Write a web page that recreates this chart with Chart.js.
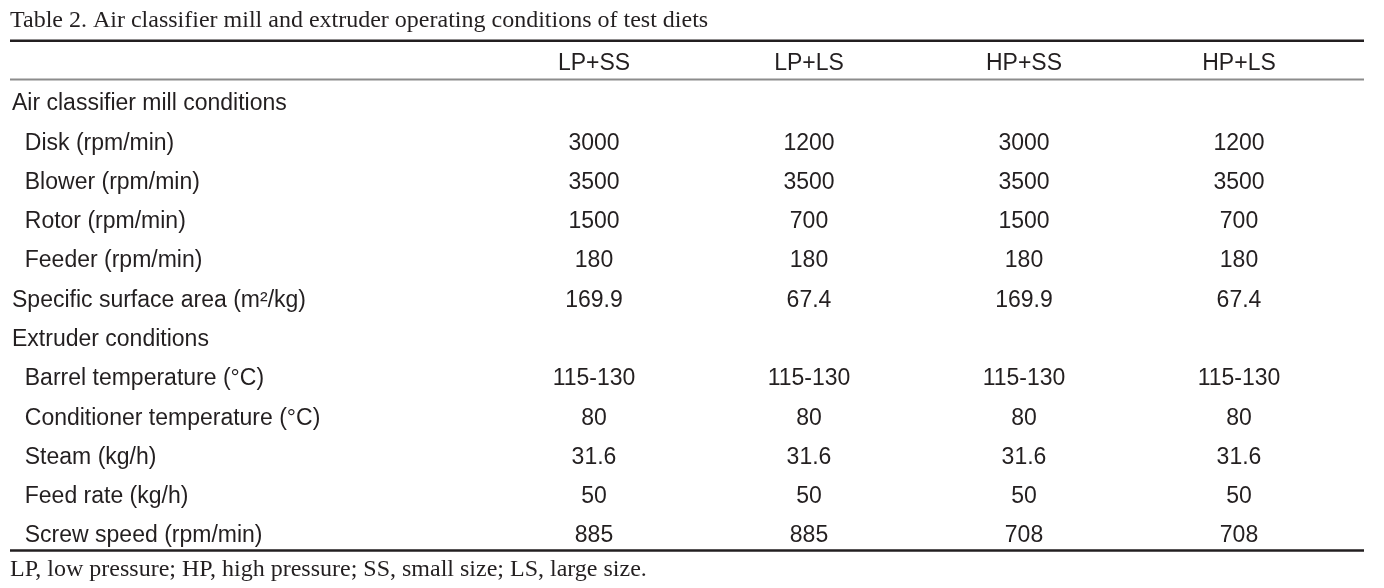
<!DOCTYPE html>
<html>
<head>
<meta charset="utf-8">
<title>Table 2</title>
<script src="https://cdn.jsdelivr.net/npm/chart.js@4"></script>
<style>
  html, body { margin: 0; padding: 0; background: #fff; }
  canvas { display: block; }
</style>
</head>
<body>
<canvas id="table-chart" width="1384" height="588"></canvas>
<script>
// Table text
const titleText = 'Table 2. Air classifier mill and extruder operating conditions of test diets';
const footnoteText = 'LP, low pressure; HP, high pressure; SS, small size; LS, large size.';

// Column headers (test diets)
const columns = ['LP+SS', 'LP+LS', 'HP+SS', 'HP+LS'];

// Row labels
const rowLabels = [
  'Air classifier mill conditions',
  'Disk (rpm/min)',
  'Blower (rpm/min)',
  'Rotor (rpm/min)',
  'Feeder (rpm/min)',
  'Specific surface area (m\u00B2/kg)',
  'Extruder conditions',
  'Barrel temperature (\u00B0C)',
  'Conditioner temperature (\u00B0C)',
  'Steam (kg/h)',
  'Feed rate (kg/h)',
  'Screw speed (rpm/min)'
];

// Rows that are not indented
const topLevelRows = [
  'Air classifier mill conditions',
  'Specific surface area (m\u00B2/kg)',
  'Extruder conditions'
];

// Values per diet, one entry per row
const lpSS = ['', '3000', '3500', '1500', '180', '169.9', '', '115-130', '80', '31.6', '50', '885'];
const lpLS = ['', '1200', '3500', '700', '180', '67.4', '', '115-130', '80', '31.6', '50', '885'];
const hpSS = ['', '3000', '3500', '1500', '180', '169.9', '', '115-130', '80', '31.6', '50', '708'];
const hpLS = ['', '1200', '3500', '700', '180', '67.4', '', '115-130', '80', '31.6', '50', '708'];

const columnValues = [lpSS, lpLS, hpSS, hpLS];

const textColor = '#231f20';
const sansFont = "'Liberation Sans', Arial, sans-serif";
const serifFont = "'Liberation Serif', 'Times New Roman', serif";

// Draws the cell values, rules, title and footnote
const tablePlugin = {
  id: 'tableText',
  afterDraw(chart) {
    const ctx = chart.ctx;
    const xScale = chart.scales.x;
    const yScale = chart.scales.y;

    ctx.save();

    // cell values
    ctx.fillStyle = textColor;
    ctx.font = '23px ' + sansFont;
    ctx.textAlign = 'center';
    ctx.textBaseline = 'middle';
    columnValues.forEach((values, c) => {
      const x = xScale.getPixelForValue(c);
      values.forEach((v, r) => {
        if (v === '') return;
        ctx.fillText(v, x, yScale.getPixelForValue(r));
      });
    });

    // rules
    const left = 10;
    const right = chart.width - 20;
    ctx.strokeStyle = '#231f20';
    ctx.lineWidth = 2.5;
    ctx.beginPath();
    ctx.moveTo(left, 40.7);
    ctx.lineTo(right, 40.7);
    ctx.moveTo(left, 550.5);
    ctx.lineTo(right, 550.5);
    ctx.stroke();

    ctx.strokeStyle = '#8c8c8c';
    ctx.lineWidth = 2;
    ctx.beginPath();
    ctx.moveTo(left, 79.5);
    ctx.lineTo(right, 79.5);
    ctx.stroke();

    // title and footnote
    ctx.fillStyle = textColor;
    ctx.font = '24px ' + serifFont;
    ctx.textAlign = 'left';
    ctx.textBaseline = 'middle';
    ctx.fillText(titleText, 10, 21);
    ctx.fillText(footnoteText, 10, 570);

    ctx.restore();
  }
};

new Chart(document.getElementById('table-chart'), {
  type: 'bar',
  data: {
    labels: columns,
    datasets: []
  },
  options: {
    responsive: false,
    animation: false,
    layout: {
      padding: { top: 50, left: 12, right: 37.5, bottom: 32.4 }
    },
    plugins: {
      legend: { display: false },
      tooltip: { enabled: false }
    },
    scales: {
      x: {
        type: 'category',
        position: 'top',
        offset: true,
        grid: { display: false, drawTicks: false },
        border: { display: false },
        ticks: {
          autoSkip: false,
          maxRotation: 0,
          padding: 7,
          color: textColor,
          font: { family: sansFont, size: 23 }
        },
        afterFit(scale) { scale.height = 34.4; }
      },
      y: {
        type: 'category',
        labels: rowLabels,
        offset: true,
        grid: { display: false, drawTicks: false },
        border: { display: false },
        ticks: {
          autoSkip: false,
          crossAlign: 'far',
          padding: 0,
          color: textColor,
          font: { family: sansFont, size: 23 },
          callback(value, index) {
            const label = rowLabels[index];
            return topLevelRows.includes(label) ? label : '  ' + label;
          }
        },
        afterFit(scale) { scale.width = 474.5; }
      }
    }
  },
  plugins: [tablePlugin]
});
</script>
</body>
</html>
